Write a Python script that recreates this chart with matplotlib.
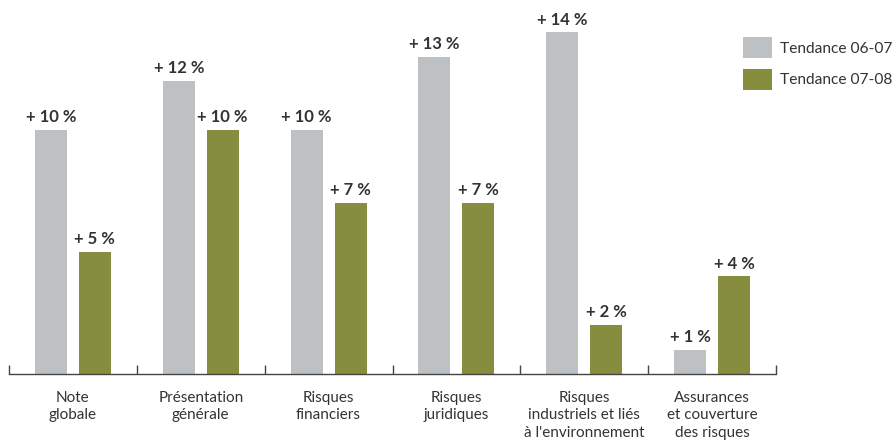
import numpy as np
import matplotlib.pyplot as plt

plt.rcParams['font.family'] = ['Lato', 'DejaVu Sans']

categories = ["Note\nglobale", "Présentation\ngénérale", "Risques\nfinanciers",
              "Risques\njuridiques", "Risques\nindustriels et liés\nà l'environnement",
              "Assurances\net couverture\ndes risques"]
tend_06_07 = [10, 12, 10, 13, 14, 1]
tend_07_08 = [5, 10, 7, 7, 2, 4]
series_names = ["Tendance 06-07", "Tendance 07-08"]

gray = "#bdc1c4"
green = "#868d3e"
text_col = "#333333"

fig = plt.figure(figsize=(8.96, 4.43), dpi=100)
ax = fig.add_axes([9 / 896, 69 / 443, 767 / 896, 374 / 443])

x = np.arange(len(categories))
w = 0.25
off = 0.172
b1 = ax.bar(x - off, tend_06_07, w, color=gray, label=series_names[0])
b2 = ax.bar(x + off, tend_07_08, w, color=green, label=series_names[1])

for bars, vals in ((b1, tend_06_07), (b2, tend_07_08)):
    for rect, v in zip(bars, vals):
        ax.text(rect.get_x() + rect.get_width() / 2, v + 0.2, f"+ {v} %",
                ha='center', va='bottom', fontsize=12, fontweight='bold',
                color=text_col)

ax.set_xlim(-0.5, len(categories) - 0.5)
ax.set_ylim(0, 15.33)

for s in ('top', 'right', 'left'):
    ax.spines[s].set_visible(False)
ax.spines['bottom'].set_color('#444444')
ax.spines['bottom'].set_linewidth(1.0)
ax.set_yticks([])

# category labels centred, separators as minor ticks pointing up
ax.set_xticks(x)
ax.set_xticklabels(categories, fontsize=11, color=text_col, linespacing=1.32, va='top')
ax.tick_params(axis='x', which='major', length=0, pad=12)
ax.set_xticks(np.arange(-0.5, len(categories), 1.0), minor=True)
ax.tick_params(axis='x', which='minor', direction='in', length=6.5, width=1.0, color='#444444')

leg = ax.legend(loc='upper left', bbox_to_anchor=(743 / 896, 1 - 37 / 443),
                bbox_transform=fig.transFigure, frameon=False, fontsize=11.2,
                handlelength=1.87, handleheight=1.71, handletextpad=0.5,
                labelspacing=0.68, borderaxespad=0, borderpad=0)
for t in leg.get_texts():
    t.set_color(text_col)

fig.savefig("out.png", dpi=100)
